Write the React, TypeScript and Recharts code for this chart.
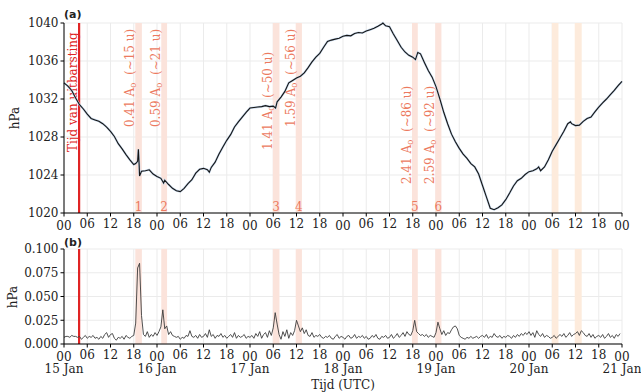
import {
  LineChart,
  Line,
  XAxis,
  YAxis,
  CartesianGrid,
  ReferenceArea,
  ReferenceLine,
} from "recharts";

// time axis in hours since 15 Jan 00 UTC
const hourTicks = [0, 6, 12, 18, 24, 30, 36, 42, 48, 54, 60, 66, 72, 78, 84, 90, 96, 102, 108, 114, 120, 126, 132, 138, 144];
const dayLabels = ["15 Jan", "16 Jan", "17 Jan", "18 Jan", "19 Jan", "20 Jan", "21 Jan"];
const pressureTicks = [1020, 1024, 1028, 1032, 1036, 1040];
const residualTicks = [0, 0.025, 0.05, 0.075, 0.1];

const eruptionHour = 3.9;
const bandStart = [18.4, 25.1, 53.9, 59.8, 89.8, 95.8, 125.9, 131.8];
const bandEnd = [20.1, 26.6, 55.6, 61.4, 91.3, 97.4, 127.6, 133.6];
const bandAmplitude = ["0.41", "0.59", "1.41", "1.59", "2.41", "2.59"];
const bandDelay = ["∼15 u", "∼21 u", "∼50 u", "∼56 u", "∼86 u", "∼92 u"];

const pressureHours = [
  0, 1, 2, 3, 4, 5, 6, 7, 8, 9, 10, 11, 12, 13, 14, 15, 16, 17, 18, 18.5, 19, 19.2, 19.4, 19.5, 20,
  21, 22, 23, 24, 25, 25.7, 26, 27, 28, 29, 30, 31, 32, 33, 34, 35, 36, 37, 37.5, 38, 39, 40, 41,
  42, 43, 44, 45, 46, 47, 48, 49, 50, 51, 52, 53, 54, 54.6, 55, 56, 57, 58, 59, 60, 61, 62, 63, 64,
  65, 66, 67, 68, 69, 70, 71, 72, 73, 74, 75, 76, 77, 78, 79, 80, 81, 82, 82.3, 83, 84, 85, 86, 87,
  88, 89, 90, 90.7, 91.3, 92, 93, 94, 95, 96, 97, 98, 99, 100, 101, 102, 103, 104, 105, 106, 107,
  108, 109, 110, 111, 112, 113, 114, 115, 116, 117, 118, 119, 120, 121, 122, 122.5, 123, 124, 125,
  126, 127, 128, 129, 130, 130.7, 131, 132, 133, 134, 135, 136, 137, 138, 139, 140, 141, 142, 143, 144,
];
const pressureValues = [
  1033.7, 1033.35, 1032.9, 1032.1, 1031.4, 1030.95, 1030.4, 1029.95, 1029.8, 1029.65, 1029.4, 1029.05,
  1028.6, 1028.05, 1027.3, 1026.75, 1026.15, 1025.6, 1025.1, 1025.2, 1025.45, 1026.7, 1025.0, 1023.9, 1024.4,
  1024.45, 1024.55, 1024.1, 1023.85, 1023.65, 1023.15, 1023.45, 1023.0, 1022.6, 1022.35, 1022.25, 1022.6,
  1023.1, 1023.5, 1024.2, 1024.6, 1024.7, 1024.55, 1024.3, 1024.8, 1025.35, 1026.2, 1026.95,
  1027.65, 1028.25, 1029.05, 1029.6, 1030.1, 1030.6, 1031.05, 1031.1, 1031.15, 1031.2, 1031.3, 1031.2,
  1031.25, 1031.05, 1031.7, 1032.2, 1032.8, 1033.7, 1033.95, 1034.2, 1034.4, 1034.75, 1035.3, 1035.9,
  1036.4, 1036.8, 1037.45, 1038.05, 1038.2, 1038.3, 1038.4, 1038.6, 1038.7, 1038.65, 1038.9, 1039.0,
  1038.95, 1039.15, 1039.3, 1039.45, 1039.65, 1039.9, 1040.0, 1039.7, 1039.6, 1038.85, 1038.15, 1037.45,
  1036.95, 1036.6, 1036.4, 1036.15, 1036.9, 1036.75, 1035.85, 1035.0, 1034.3, 1033.3, 1032.0, 1030.6,
  1029.4, 1028.3, 1027.5, 1026.8, 1026.2, 1025.75, 1025.2, 1024.85, 1024.1,
  1022.9, 1021.7, 1020.5, 1020.35, 1020.55, 1020.85, 1021.4, 1022.1, 1022.85, 1023.4, 1023.65, 1024.05,
  1024.35, 1024.45, 1024.65, 1024.85, 1024.45, 1024.85, 1025.6,
  1026.5, 1027.2, 1027.9, 1028.6, 1029.4, 1029.6, 1029.4, 1029.2, 1029.25, 1029.65, 1029.95, 1030.1,
  1030.65, 1031.15, 1031.6, 1032.0, 1032.45, 1032.9, 1033.4, 1033.85,
];

// residual, one value every 30 minutes (each row = 6 hours)
const residualValues = [
  0.007, 0.008, 0.008, 0.007, 0.009, 0.008, 0.008, 0.007, 0.008, 0.005, 0.007, 0.009,
  0.006, 0.008, 0.007, 0.009, 0.006, 0.007, 0.005, 0.008, 0.006, 0.010, 0.012, 0.007,
  0.010, 0.011, 0.006, 0.004, 0.007, 0.006, 0.008, 0.005, 0.009, 0.007, 0.006, 0.008,
  0.009, 0.022, 0.080, 0.085, 0.030, 0.010, 0.008, 0.013, 0.007, 0.010, 0.008, 0.012,
  0.009, 0.013, 0.018, 0.036, 0.016, 0.019, 0.010, 0.013, 0.009, 0.008, 0.007, 0.008,
  0.005, 0.007, 0.006, 0.009, 0.008, 0.014, 0.008, 0.007, 0.009, 0.006, 0.010, 0.007,
  0.008, 0.011, 0.007, 0.015, 0.008, 0.010, 0.006, 0.009, 0.008, 0.011, 0.007, 0.009,
  0.006, 0.008, 0.010, 0.007, 0.012, 0.006, 0.009, 0.007, 0.008, 0.010, 0.006, 0.008,
  0.007, 0.009, 0.006, 0.011, 0.008, 0.013, 0.006, 0.010, 0.012, 0.007, 0.014, 0.009,
  0.017, 0.033, 0.021, 0.010, 0.005, 0.013, 0.008, 0.015, 0.006, 0.012, 0.009, 0.014,
  0.025, 0.019, 0.013, 0.017, 0.011, 0.015, 0.009, 0.008, 0.012, 0.007, 0.009, 0.008,
  0.010, 0.007, 0.006, 0.008, 0.007, 0.009, 0.006, 0.005, 0.008, 0.010, 0.006, 0.008,
  0.007, 0.005, 0.008, 0.009, 0.006, 0.007, 0.010, 0.006, 0.008, 0.007, 0.009, 0.006,
  0.008, 0.005, 0.006, 0.009, 0.007, 0.010, 0.006, 0.005, 0.008, 0.007, 0.009, 0.006,
  0.007, 0.010, 0.006, 0.008, 0.011, 0.007, 0.009, 0.012, 0.008, 0.013, 0.010, 0.009,
  0.014, 0.025, 0.013, 0.011, 0.009, 0.010, 0.008, 0.010, 0.007, 0.009, 0.008, 0.007,
  0.012, 0.023, 0.016, 0.010, 0.014, 0.009, 0.012, 0.011, 0.015, 0.018, 0.019, 0.016,
  0.009, 0.007, 0.006, 0.005, 0.007, 0.006, 0.008, 0.006, 0.007, 0.008, 0.006, 0.008,
  0.009, 0.007, 0.010, 0.006, 0.008, 0.007, 0.011, 0.008, 0.007, 0.009, 0.006, 0.008,
  0.007, 0.009, 0.008, 0.006, 0.009, 0.007, 0.010, 0.008, 0.011, 0.009, 0.012, 0.010,
  0.013, 0.009, 0.012, 0.007, 0.014, 0.010, 0.008, 0.011, 0.007, 0.009, 0.008, 0.006,
  0.007, 0.009, 0.006, 0.008, 0.010, 0.008, 0.011, 0.007, 0.009, 0.012, 0.008, 0.010,
  0.011, 0.013, 0.009, 0.014, 0.012, 0.009, 0.008, 0.011, 0.007, 0.010, 0.006, 0.008,
  0.009, 0.007, 0.010, 0.006, 0.008, 0.011, 0.007, 0.009, 0.006, 0.010, 0.008, 0.011,
];

const pressureData = pressureHours.map((h, i) => ({ h, p: pressureValues[i] }));
const residualData = residualValues.map((r, i) => ({ h: i * 0.5, r }));

const SERIF = "DejaVu Serif";
const labelColor = "#ec7a60";
const bandColors = ["#fbe3db", "#fbe3db", "#fbe3db", "#fbe3db", "#fbe3db", "#fbe3db", "#fdebdc", "#fdebdc"];
const labelBottom = [127, 127, 150, 127, 184, 184];
const TOP_PLOT_BOTTOM = 213;

function TimeTick(props: any) {
  const { x, y, payload, withDay } = props;
  const h = payload.value as number;
  const hh = h % 24;
  return (
    <g>
      <text x={x} y={y + 9.5 + (hh === 0 ? 1.5 : 0)} textAnchor="middle" fontSize={12} fontFamily={SERIF} fill="#222">
        {String(hh).padStart(2, "0")}
      </text>
      {withDay && hh === 0 && (
        <text x={x} y={y + 23.5} textAnchor="middle" fontSize={12} fontFamily={SERIF} fill="#222">
          {dayLabels[h / 24]}
        </text>
      )}
    </g>
  );
}

function BandLabel(props: any) {
  const { viewBox, index } = props;
  if (!viewBox) return null;
  const tx = viewBox.x - 5;
  const ty = labelBottom[index];
  const cx = viewBox.x + viewBox.width / 2;
  return (
    <g>
      <text
        x={tx}
        y={ty}
        transform={`rotate(-90 ${tx} ${ty})`}
        fill={labelColor}
        fontSize={12}
        fontFamily={SERIF}
        dominantBaseline="central"
      >
        {bandAmplitude[index]} A
        <tspan dy={3} fontSize={8.5}>o</tspan>
        <tspan dy={-3}>{"\u00a0\u00a0(" + bandDelay[index] + ")"}</tspan>
      </text>
      <text x={cx} y={TOP_PLOT_BOTTOM - 2} textAnchor="middle" fill={labelColor} fontSize={12} fontFamily={SERIF}>
        {index + 1}
      </text>
    </g>
  );
}

function EruptionLabel(props: any) {
  const { viewBox } = props;
  if (!viewBox) return null;
  const tx = viewBox.x - 6;
  const ty = 152;
  return (
    <text
      x={tx}
      y={ty}
      transform={`rotate(-90 ${tx} ${ty})`}
      fill="#e02424"
      fontSize={12}
      fontFamily={SERIF}
      dominantBaseline="central"
    >
      Tijd van uitbarsting
    </text>
  );
}

function AxisTitle(props: any) {
  const { x, y, text } = props;
  return (
    <text x={x} y={y} transform={`rotate(-90 ${x} ${y})`} textAnchor="middle" dominantBaseline="central" fontSize={12} fontFamily={SERIF} fill="#222">
      {text}
    </text>
  );
}

export default function App() {
  const axisTick = { fontSize: 12, fill: "#222", fontFamily: SERIF };
  return (
    <div style={{ position: "absolute", left: 0, top: 0, width: 641, height: 392, background: "#fff" }}>
      <div style={{ position: "absolute", left: 0, top: 0 }}>
        <LineChart width={641} height={240} data={pressureData} margin={{ top: 23, right: 19, bottom: 0, left: 0 }}>
          <CartesianGrid stroke="#ebebeb" />
          {bandStart.map((s, i) => (
            <ReferenceArea
              key={`a${i}`}
              x1={s}
              x2={bandEnd[i]}
              fill={bandColors[i]}
              fillOpacity={1}
              stroke="none"
              label={i < 6 ? <BandLabel index={i} /> : undefined}
            />
          ))}
          <ReferenceLine x={eruptionHour} stroke="#e02424" strokeWidth={2.2} label={<EruptionLabel />} />
          <XAxis
            dataKey="h"
            type="number"
            domain={[0, 144]}
            ticks={hourTicks}
            height={27}
            tickSize={3.5}
            axisLine={{ stroke: "#000" }}
            tickLine={{ stroke: "#000" }}
            tick={<TimeTick />}
            interval={0}
          />
          <YAxis
            type="number"
            domain={[1020, 1040]}
            ticks={pressureTicks}
            width={64}
            tickSize={3.5}
            axisLine={{ stroke: "#000" }}
            tickLine={{ stroke: "#000" }}
            tick={axisTick}
            interval={0}
          />
          <Line dataKey="p" type="linear" stroke="#c6d8ec" strokeWidth={2.2} dot={false} isAnimationActive={false} />
          <Line dataKey="p" type="linear" stroke="#151515" strokeWidth={1.1} dot={false} isAnimationActive={false} />
          <AxisTitle x={15} y={118} text="hPa" />
          <text x={64} y={14} dominantBaseline="central" fontSize={11} fontWeight="bold" fontFamily="DejaVu Sans" fill="#222">
            (a)
          </text>
        </LineChart>
      </div>
      <div style={{ position: "absolute", left: 0, top: 230 }}>
        <LineChart width={641} height={162} data={residualData} margin={{ top: 19, right: 19, bottom: 0, left: 0 }}>
          <CartesianGrid stroke="#ebebeb" />
          {bandStart.map((s, i) => (
            <ReferenceArea key={`b${i}`} x1={s} x2={bandEnd[i]} fill={bandColors[i]} fillOpacity={1} stroke="none" />
          ))}
          <ReferenceLine x={eruptionHour} stroke="#e02424" strokeWidth={2.2} />
          <XAxis
            dataKey="h"
            type="number"
            domain={[0, 144]}
            ticks={hourTicks}
            height={48}
            tickSize={3.5}
            axisLine={{ stroke: "#000" }}
            tickLine={{ stroke: "#000" }}
            tick={<TimeTick withDay />}
            interval={0}
          />
          <YAxis
            type="number"
            domain={[0, 0.1]}
            ticks={residualTicks}
            width={64}
            tickSize={3.5}
            axisLine={{ stroke: "#000" }}
            tickLine={{ stroke: "#000" }}
            tick={axisTick}
            tickFormatter={(v: number) => v.toFixed(3)}
            interval={0}
          />
          <Line dataKey="r" type="linear" stroke="#3c3c3c" strokeWidth={0.9} dot={false} isAnimationActive={false} />
          <AxisTitle x={13} y={67} text="hPa" />
          <text x={64} y={12} dominantBaseline="central" fontSize={11} fontWeight="bold" fontFamily="DejaVu Sans" fill="#222">
            (b)
          </text>
          <text x={343} y={159} textAnchor="middle" fontSize={12} fontFamily={SERIF} fill="#222">
            Tijd (UTC)
          </text>
        </LineChart>
      </div>
    </div>
  );
}
